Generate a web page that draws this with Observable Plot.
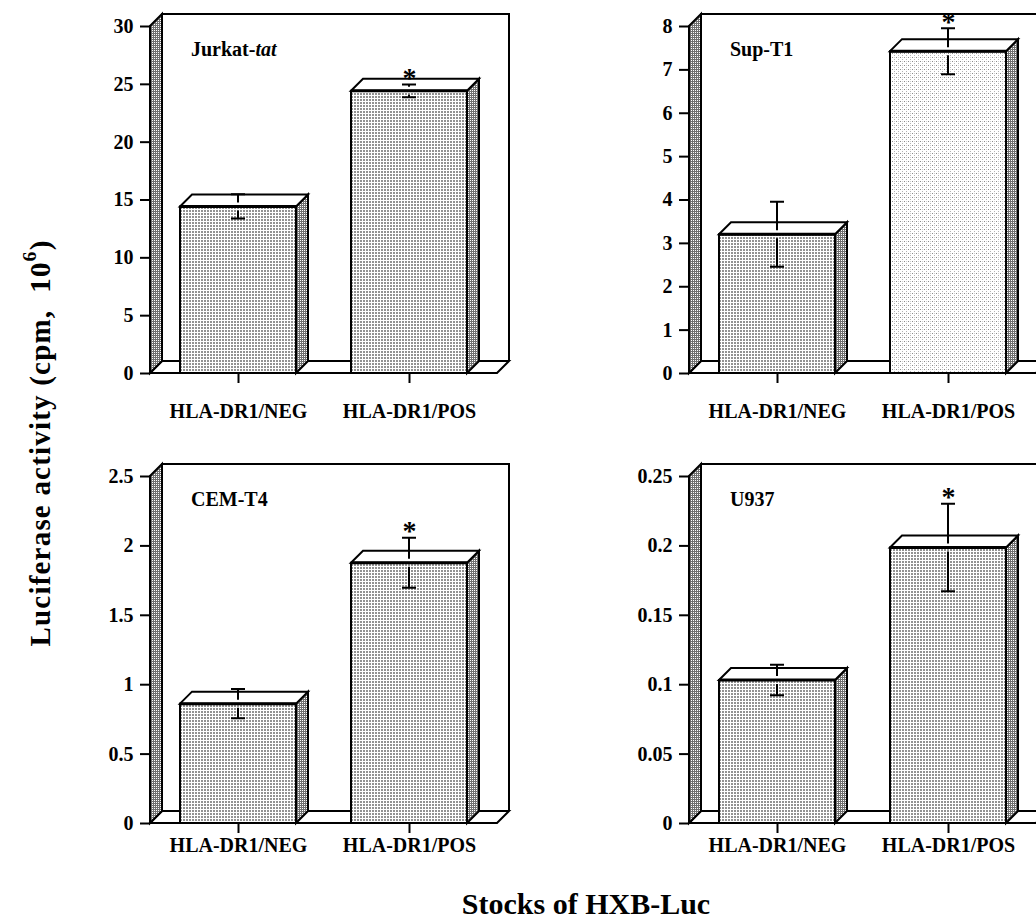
<!DOCTYPE html>
<html>
<head>
<meta charset="utf-8">
<script src="https://cdn.jsdelivr.net/npm/d3@7"></script>
<script src="https://cdn.jsdelivr.net/npm/@observablehq/plot@0.6"></script>
<style>
  body { margin: 0; background: #fff; }
  #wrap { position: relative; width: 1036px; height: 920px; overflow: hidden; background: #fff;
          font-family: "Liberation Serif", "Times New Roman", serif; font-weight: bold; color: #000; }
  .panel { position: absolute; width: 520px; height: 450px; }
  #ytitle { position: absolute; left: 40px; top: 443px; transform: translate(-50%, -50%) rotate(-90deg);
            white-space: nowrap; font-size: 29px; letter-spacing: 1.2px; }
  #xtitle { position: absolute; left: 586px; top: 889px; transform: translateX(-50%);
            white-space: nowrap; font-size: 30px; line-height: 30px; }
</style>
</head>
<body>
<svg width="0" height="0" style="position:absolute">
  <defs>
    <pattern id="pFront" width="3" height="3" patternUnits="userSpaceOnUse">
      <rect width="3" height="3" fill="#ffffff"/>
      <rect width="2" height="2" fill="#929292"/>
    </pattern>
    <pattern id="pSide" width="2" height="2" patternUnits="userSpaceOnUse">
      <rect width="2" height="2" fill="#707070"/>
      <rect width="1" height="1" fill="#ffffff"/>
    </pattern>
    <pattern id="pLight" width="4" height="4" patternUnits="userSpaceOnUse">
      <rect width="4" height="4" fill="#ffffff"/>
      <rect x="1" y="1" width="1" height="1" fill="#8a8a8a"/>
      <rect x="3" y="3" width="1" height="1" fill="#b4b4b4"/>
      <rect x="3" y="1" width="1" height="1" fill="#d0d0d0"/>
    </pattern>
  </defs>
</svg>
<div id="wrap">
  <div id="ytitle">Luciferase activity (cpm,&nbsp;&nbsp;10<span style="font-size:0.68em;position:relative;top:-0.72em">6</span>)</div>
  <div id="xtitle">Stocks of HXB-Luc</div>
</div>
<script>
// ---------------- data ----------------
const categories = ["HLA-DR1/NEG", "HLA-DR1/POS"];
const significant = [false, true];

const jurkatMeans = [14.4, 24.4];
const jurkatErrors = [1.05, 0.55];
const jurkatTicks = [0, 5, 10, 15, 20, 25, 30];

const supT1Means = [3.2, 7.42];
const supT1Errors = [0.75, 0.53];
const supT1Ticks = [0, 1, 2, 3, 4, 5, 6, 7, 8];

const cemT4Means = [0.86, 1.875];
const cemT4Errors = [0.105, 0.18];
const cemT4Ticks = [0, 0.5, 1, 1.5, 2, 2.5];

const u937Means = [0.103, 0.1985];
const u937Errors = [0.011, 0.0315];
const u937Ticks = [0, 0.05, 0.1, 0.15, 0.2, 0.25];

// ---------------- drawing ----------------
const DEPTH = 12;

function makePanel(cfg) {
  const rows = categories.map((c, i) => ({
    cat: c, mean: cfg.means[i], err: cfg.errors[i], sig: significant[i], fill: cfg.fills[i]
  }));
  const yMax = cfg.ticks[cfg.ticks.length - 1];
  const D = DEPTH;

  const walls = (index, scales, values, dims) => {
    const y = scales.y;
    const x0 = dims.marginLeft, x1 = dims.width - dims.marginRight;
    const yb = y(0), yt = y(yMax);
    const g = d3.create("svg:g").attr("stroke", "black").attr("stroke-width", 2).attr("stroke-linejoin", "miter");
    g.append("path").attr("fill", "white").attr("d", `M${x0 + D},${yb - D}V${yt - D}H${x1 + D}V${yb - D}`);
    g.append("path").attr("fill", "white").attr("d", `M${x0},${yb}H${x1}L${x1 + D},${yb - D}H${x0 + D}Z`);
    g.append("path").attr("fill", "url(#pSide)").attr("d", `M${x0},${yb}V${yt}L${x0 + D},${yt - D}V${yb - D}Z`);
    return g.node();
  };

  const faces = (index, scales) => {
    const {x, y} = scales;
    const bw = x.bandwidth();
    const g = d3.create("svg:g").attr("stroke", "black").attr("stroke-width", 2).attr("stroke-linejoin", "miter");
    for (const d of rows) {
      const bx1 = x(d.cat), bx2 = bx1 + bw, yv = y(d.mean), y0 = y(0);
      g.append("path").attr("fill", "url(#pSide)").attr("d", `M${bx2},${y0}V${yv}L${bx2 + D},${yv - D}V${y0 - D}Z`);
      g.append("path").attr("fill", "white").attr("d", `M${bx1},${yv}L${bx1 + D},${yv - D}H${bx2 + D}L${bx2},${yv}Z`);
      g.append("path").attr("fill", "none").attr("stroke-width", 3).attr("d", `M${bx1},${yv}H${bx2}`);
    }
    return g.node();
  };

  const errorBars = (index, scales) => {
    const {x, y} = scales;
    const bw = x.bandwidth();
    const g = d3.create("svg:g").attr("stroke", "black").attr("stroke-width", 2).attr("fill", "none");
    const gap = 4, cap = 7;
    for (const d of rows) {
      const cx = x(d.cat) + bw / 2;
      const yv = y(d.mean), yHi = y(d.mean + d.err), yLo = y(d.mean - d.err);
      let p = `M${cx - cap},${yHi}H${cx + cap}M${cx - cap},${yLo}H${cx + cap}`;
      if (yv - gap > yHi) p += `M${cx},${yHi}V${yv - gap}`;
      if (yv + gap < yLo) p += `M${cx},${yv + gap}V${yLo}`;
      g.append("path").attr("d", p);
    }
    return g.node();
  };

  const title = (index, scales, values, dims) => {
    const t = d3.create("svg:text").attr("x", dims.marginLeft + 41).attr("y", 56)
      .attr("text-anchor", "start")
      .attr("font-size", 20).attr("font-weight", "bold").attr("fill", "black");
    for (const [s, style] of cfg.title) t.append("tspan").attr("font-style", style).text(s);
    return t.node();
  };

  return Plot.plot({
    width: 520,
    height: 450,
    marginLeft: 150,
    marginRight: 23,
    marginTop: 26,
    marginBottom: 77,
    style: {fontFamily: "'Liberation Serif', 'Times New Roman', serif", fontWeight: "bold", fontSize: "20px",
            maxWidth: "none", overflow: "visible", background: "transparent", color: "black"},
    x: {domain: categories, paddingInner: 0.32, paddingOuter: 0.169, align: 0.5, label: null},
    y: {domain: [0, yMax], label: null},
    color: {type: "identity"},
    marks: [
      walls,
      Plot.barY(rows, {x: "cat", y: "mean", fill: "fill", stroke: "black", strokeWidth: 2}),
      faces,
      errorBars,
      Plot.text(rows.filter(d => d.sig), {x: "cat", y: d => d.mean + d.err, text: () => "*",
        fontSize: 28, fontWeight: "bold", lineAnchor: "bottom", dy: 2, fill: "black"}),
      Plot.axisY({ticks: cfg.ticks, tickSize: 10, tickPadding: 7, strokeWidth: 2,
        tickFormat: d => String(d), fontSize: 20, fill: "black", stroke: "black"}),
      Plot.axisX({tickSize: 10, tickPadding: cfg.xPad, strokeWidth: 2, fontSize: 20, fill: "black", stroke: "black"}),
      title
    ]
  });
}

const panels = [
  {left: 0, top: 0, title: [["Jurkat-", "normal"], ["tat", "italic"]], means: jurkatMeans, errors: jurkatErrors,
   ticks: jurkatTicks, fills: ["url(#pFront)", "url(#pFront)"], xPad: 20},
  {left: 539, top: 0, title: [["Sup-T1", "normal"]], means: supT1Means, errors: supT1Errors,
   ticks: supT1Ticks, fills: ["url(#pFront)", "url(#pLight)"], xPad: 20},
  {left: 0, top: 450, title: [["CEM-T4", "normal"]], means: cemT4Means, errors: cemT4Errors,
   ticks: cemT4Ticks, fills: ["url(#pFront)", "url(#pFront)"], xPad: 4},
  {left: 539, top: 450, title: [["U937", "normal"]], means: u937Means, errors: u937Errors,
   ticks: u937Ticks, fills: ["url(#pFront)", "url(#pFront)"], xPad: 4}
];

const wrap = document.getElementById("wrap");
for (const cfg of panels) {
  const div = document.createElement("div");
  div.className = "panel";
  div.style.left = cfg.left + "px";
  div.style.top = cfg.top + "px";
  div.appendChild(makePanel(cfg));
  wrap.insertBefore(div, wrap.firstChild);
}
</script>
</body>
</html>
